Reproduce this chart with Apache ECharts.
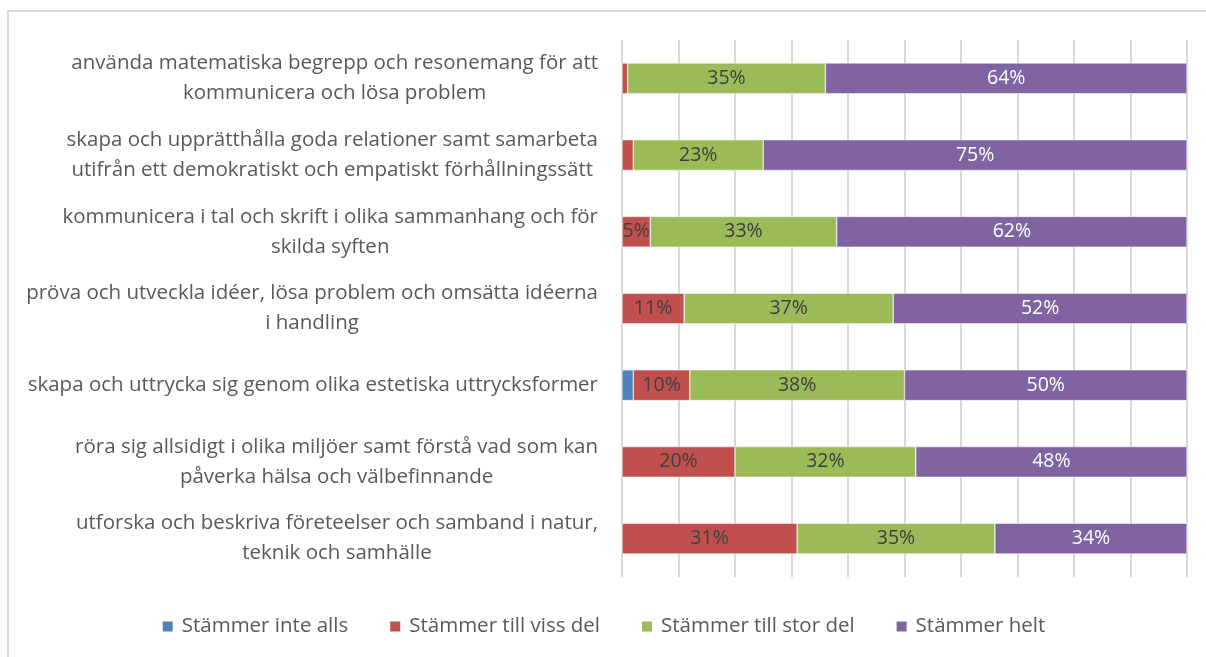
<!DOCTYPE html>
<html>
<head>
<meta charset="utf-8">
<script src="https://cdn.jsdelivr.net/npm/echarts@6/dist/echarts.min.js"></script>
<style>
  html, body { margin: 0; padding: 0; background: #fff; }
  #main { width: 1206px; height: 657px; }
</style>
</head>
<body>
<div id="main"></div>
<script>
const categories = [
  "använda matematiska begrepp och resonemang för att\nkommunicera och lösa problem",
  "skapa och upprätthålla goda relationer samt samarbeta\nutifrån ett demokratiskt och empatiskt förhållningssätt",
  "kommunicera i tal och skrift i olika sammanhang och för\nskilda syften",
  "pröva och utveckla idéer, lösa problem och omsätta idéerna\ni handling",
  "skapa och uttrycka sig genom olika estetiska uttrycksformer",
  "röra sig allsidigt i olika miljöer samt förstå vad som kan\npåverka hälsa och välbefinnande",
  "utforska och beskriva företeelser och samband i natur,\nteknik och samhälle"
];
const seriesNames = ["Stämmer inte alls", "Stämmer till viss del", "Stämmer till stor del", "Stämmer helt"];
const inteAlls = [0, 0, 0, 0, 2, 0, 0];
const vissDel = [1, 2, 5, 11, 10, 20, 31];
const storDel = [35, 23, 33, 37, 38, 32, 35];
const helt = [64, 75, 62, 52, 50, 48, 34];

const colors = ["#4F81BD", "#C0504D", "#9BBB59", "#8064A2"];
const labelColors = ["#404040", "#404040", "#404040", "#ffffff"];
const FONT = "Open Sans";
const FS = 20.5;

const chart = echarts.init(document.getElementById("main"));

function makeSeries(name, data, i) {
  return {
    name: name,
    type: "bar",
    stack: "total",
    data: data,
    barCategoryGap: "60%",
    itemStyle: { color: colors[i], borderColor: "#ffffff", borderWidth: 0.5 },
    label: {
      show: true,
      position: "inside",
      color: labelColors[i],
      fontFamily: FONT,
      fontSize: 19.5,
      formatter: (p) => (p.value >= 4 ? p.value + "%" : "")
    }
  };
}

const option = {
  animation: false,
  graphic: [{
    type: "rect",
    shape: { x: 8, y: 11, width: 1210, height: 660 },
    style: { fill: "none", stroke: "#D9D9D9", lineWidth: 2 }
  }],
  grid: { left: 622, right: 19, top: 40, bottom: 80 },
  legend: {
    bottom: 15,
    left: "center",
    itemWidth: 12,
    itemHeight: 12,
    itemGap: 40,
    icon: "rect",
    textStyle: { fontFamily: FONT, fontSize: FS, color: "#595959", padding: [0, 0, 0, 3] },
    data: seriesNames
  },
  xAxis: {
    type: "value",
    min: 0,
    max: 100,
    interval: 10,
    axisLabel: { show: false },
    axisLine: { show: false },
    axisTick: { show: false },
    splitLine: { lineStyle: { color: "#D9D9D9", width: 2 } }
  },
  yAxis: {
    type: "category",
    inverse: true,
    data: categories,
    axisLine: { show: false },
    axisTick: { show: false },
    axisLabel: {
      margin: 24,
      align: "right",
      lineHeight: 30,
      fontFamily: FONT,
      fontSize: FS,
      color: "#595959",
      formatter: (v) => v.split("\n").map((s) => "{c|" + s + "}").join("\n"),
      rich: {
        c: { align: "center", fontFamily: FONT, fontSize: FS, lineHeight: 30, color: "#595959" }
      }
    }
  },
  series: [
    makeSeries(seriesNames[0], inteAlls, 0),
    makeSeries(seriesNames[1], vissDel, 1),
    makeSeries(seriesNames[2], storDel, 2),
    makeSeries(seriesNames[3], helt, 3)
  ]
};

chart.setOption(option);
</script>
</body>
</html>
